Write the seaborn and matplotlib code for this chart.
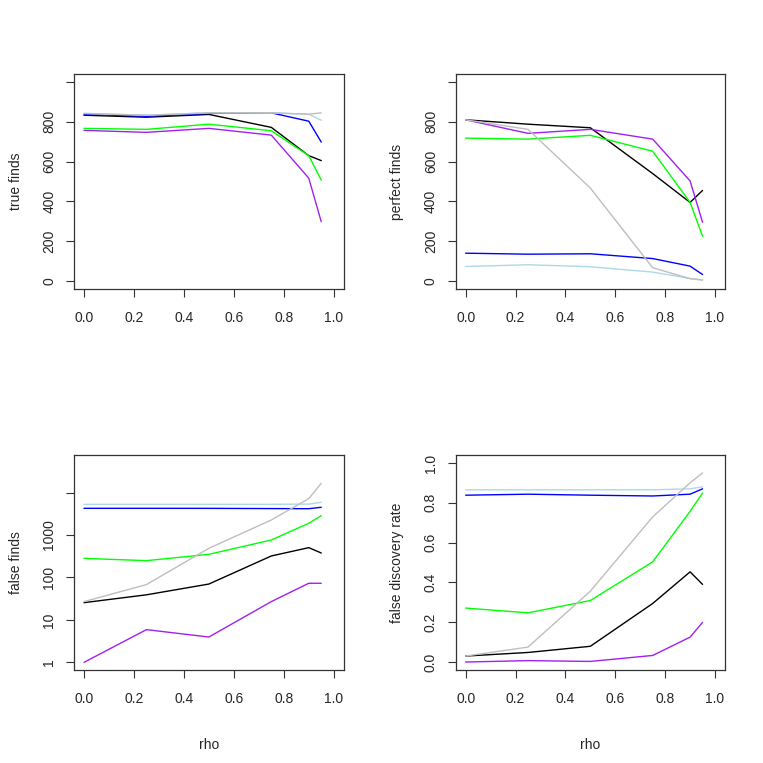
import matplotlib
matplotlib.use("Agg")
import matplotlib.pyplot as plt
import seaborn as sns
import pandas as pd

# x values shared by every panel
rho = [0.0, 0.25, 0.5, 0.75, 0.9, 0.95]
series = ["black", "blue", "lightblue", "green", "purple", "gray"]
palette = {"black": "#000000", "blue": "#0000FF", "lightblue": "#ADD8E6",
           "green": "#00FF00", "purple": "#A020F0", "gray": "#BEBEBE"}

true_finds = {
    "black": [833, 823, 837, 772, 630, 605],
    "blue": [838, 828, 842, 845, 803, 698],
    "lightblue": [842, 833, 845, 845, 838, 808],
    "green": [767, 762, 788, 755, 630, 507],
    "purple": [757, 747, 767, 733, 517, 298],
    "gray": [842, 833, 845, 845, 838, 845],
}
perfect_finds = {
    "black": [810, 788, 770, 540, 395, 455],
    "blue": [140, 135, 137, 113, 75, 33],
    "lightblue": [73, 82, 72, 45, 13, 5],
    "green": [718, 713, 732, 652, 395, 225],
    "purple": [810, 742, 762, 713, 503, 295],
    "gray": [810, 762, 467, 67, 12, 5],
}
false_finds = {
    "black": [25.5, 39, 70, 321, 504, 377],
    "blue": [4260, 4260, 4250, 4200, 4170, 4500],
    "lightblue": [5290, 5290, 5290, 5290, 5350, 5900],
    "green": [282, 249, 351, 764, 1888, 2860],
    "purple": [1, 5.9, 3.95, 27, 73, 73],
    "gray": [27, 68, 486, 2261, 7200, 16500],
}
fdr = {
    "black": [0.030, 0.048, 0.079, 0.294, 0.453, 0.39],
    "blue": [0.838, 0.843, 0.838, 0.834, 0.843, 0.87],
    "lightblue": [0.865, 0.865, 0.865, 0.865, 0.87, 0.88],
    "green": [0.271, 0.247, 0.309, 0.503, 0.757, 0.849],
    "purple": [0.0, 0.007, 0.003, 0.033, 0.125, 0.199],
    "gray": [0.03, 0.075, 0.356, 0.729, 0.90, 0.95],
}

x_ticks = [0.0, 0.2, 0.4, 0.6, 0.8, 1.0]
x_labels = ["0.0", "0.2", "0.4", "0.6", "0.8", "1.0"]


def to_long(values):
    rows = []
    for s in series:
        for x, y in zip(rho, values[s]):
            rows.append({"rho": x, "value": y, "series": s})
    return pd.DataFrame(rows)


sns.set_style("white")
plt.rcParams["font.family"] = ["Liberation Sans", "DejaVu Sans"]
plt.rcParams["font.size"] = 10

fig = plt.figure(figsize=(7.63, 7.63), dpi=100)
positions = [
    [0.0970, 0.6212, 0.3535, 0.2818],
    [0.5972, 0.6212, 0.3530, 0.2818],
    [0.0970, 0.1219, 0.3535, 0.2818],
    [0.5972, 0.1219, 0.3530, 0.2818],
]
panels = [
    (true_finds, "true finds", False),
    (perfect_finds, "perfect finds", False),
    (false_finds, "false finds", True),
    (fdr, "false discovery rate", False),
]

for i, (pos, (vals, ylab, logy)) in enumerate(zip(positions, panels)):
    ax = fig.add_axes(pos)
    sns.lineplot(data=to_long(vals), x="rho", y="value", hue="series",
                 palette=palette, hue_order=series, linewidth=1.0,
                 legend=False, ax=ax)
    ax.set_xlim(-0.04, 1.04)
    ax.set_xticks(x_ticks)
    ax.set_xticklabels(x_labels)
    if logy:
        ax.set_yscale("log")
        ax.set_ylim(10 ** -0.18, 10 ** 4.886)
        ax.set_yticks([1, 10, 100, 1000, 10000])
        ax.set_yticklabels(["1", "10", "100", "1000", ""])
        ax.minorticks_off()
    elif i == 3:
        ax.set_ylim(-0.04, 1.04)
        ax.set_yticks([0, 0.2, 0.4, 0.6, 0.8, 1.0])
        ax.set_yticklabels(["0.0", "0.2", "0.4", "0.6", "0.8", "1.0"])
    else:
        ax.set_ylim(-40, 1040)
        ax.set_yticks([0, 200, 400, 600, 800, 1000])
        ax.set_yticklabels(["0", "200", "400", "600", "800", ""])
    for lab in ax.get_yticklabels():
        lab.set_rotation(90)
        lab.set_va("center")
    ax.tick_params(axis="both", direction="out", length=5.8, width=0.8,
                   color="#333333", labelsize=10, left=True, bottom=True)
    ax.tick_params(axis="x", pad=10)
    ax.tick_params(axis="y", pad=7)
    for sp in ax.spines.values():
        sp.set_color("#333333")
        sp.set_linewidth(0.9)
    ax.set_ylabel(ylab, fontsize=10, labelpad=14)
    if i >= 2:
        ax.set_xlabel("rho", fontsize=10, labelpad=23)
    else:
        ax.set_xlabel("")

fig.savefig("out.png", dpi=100)
